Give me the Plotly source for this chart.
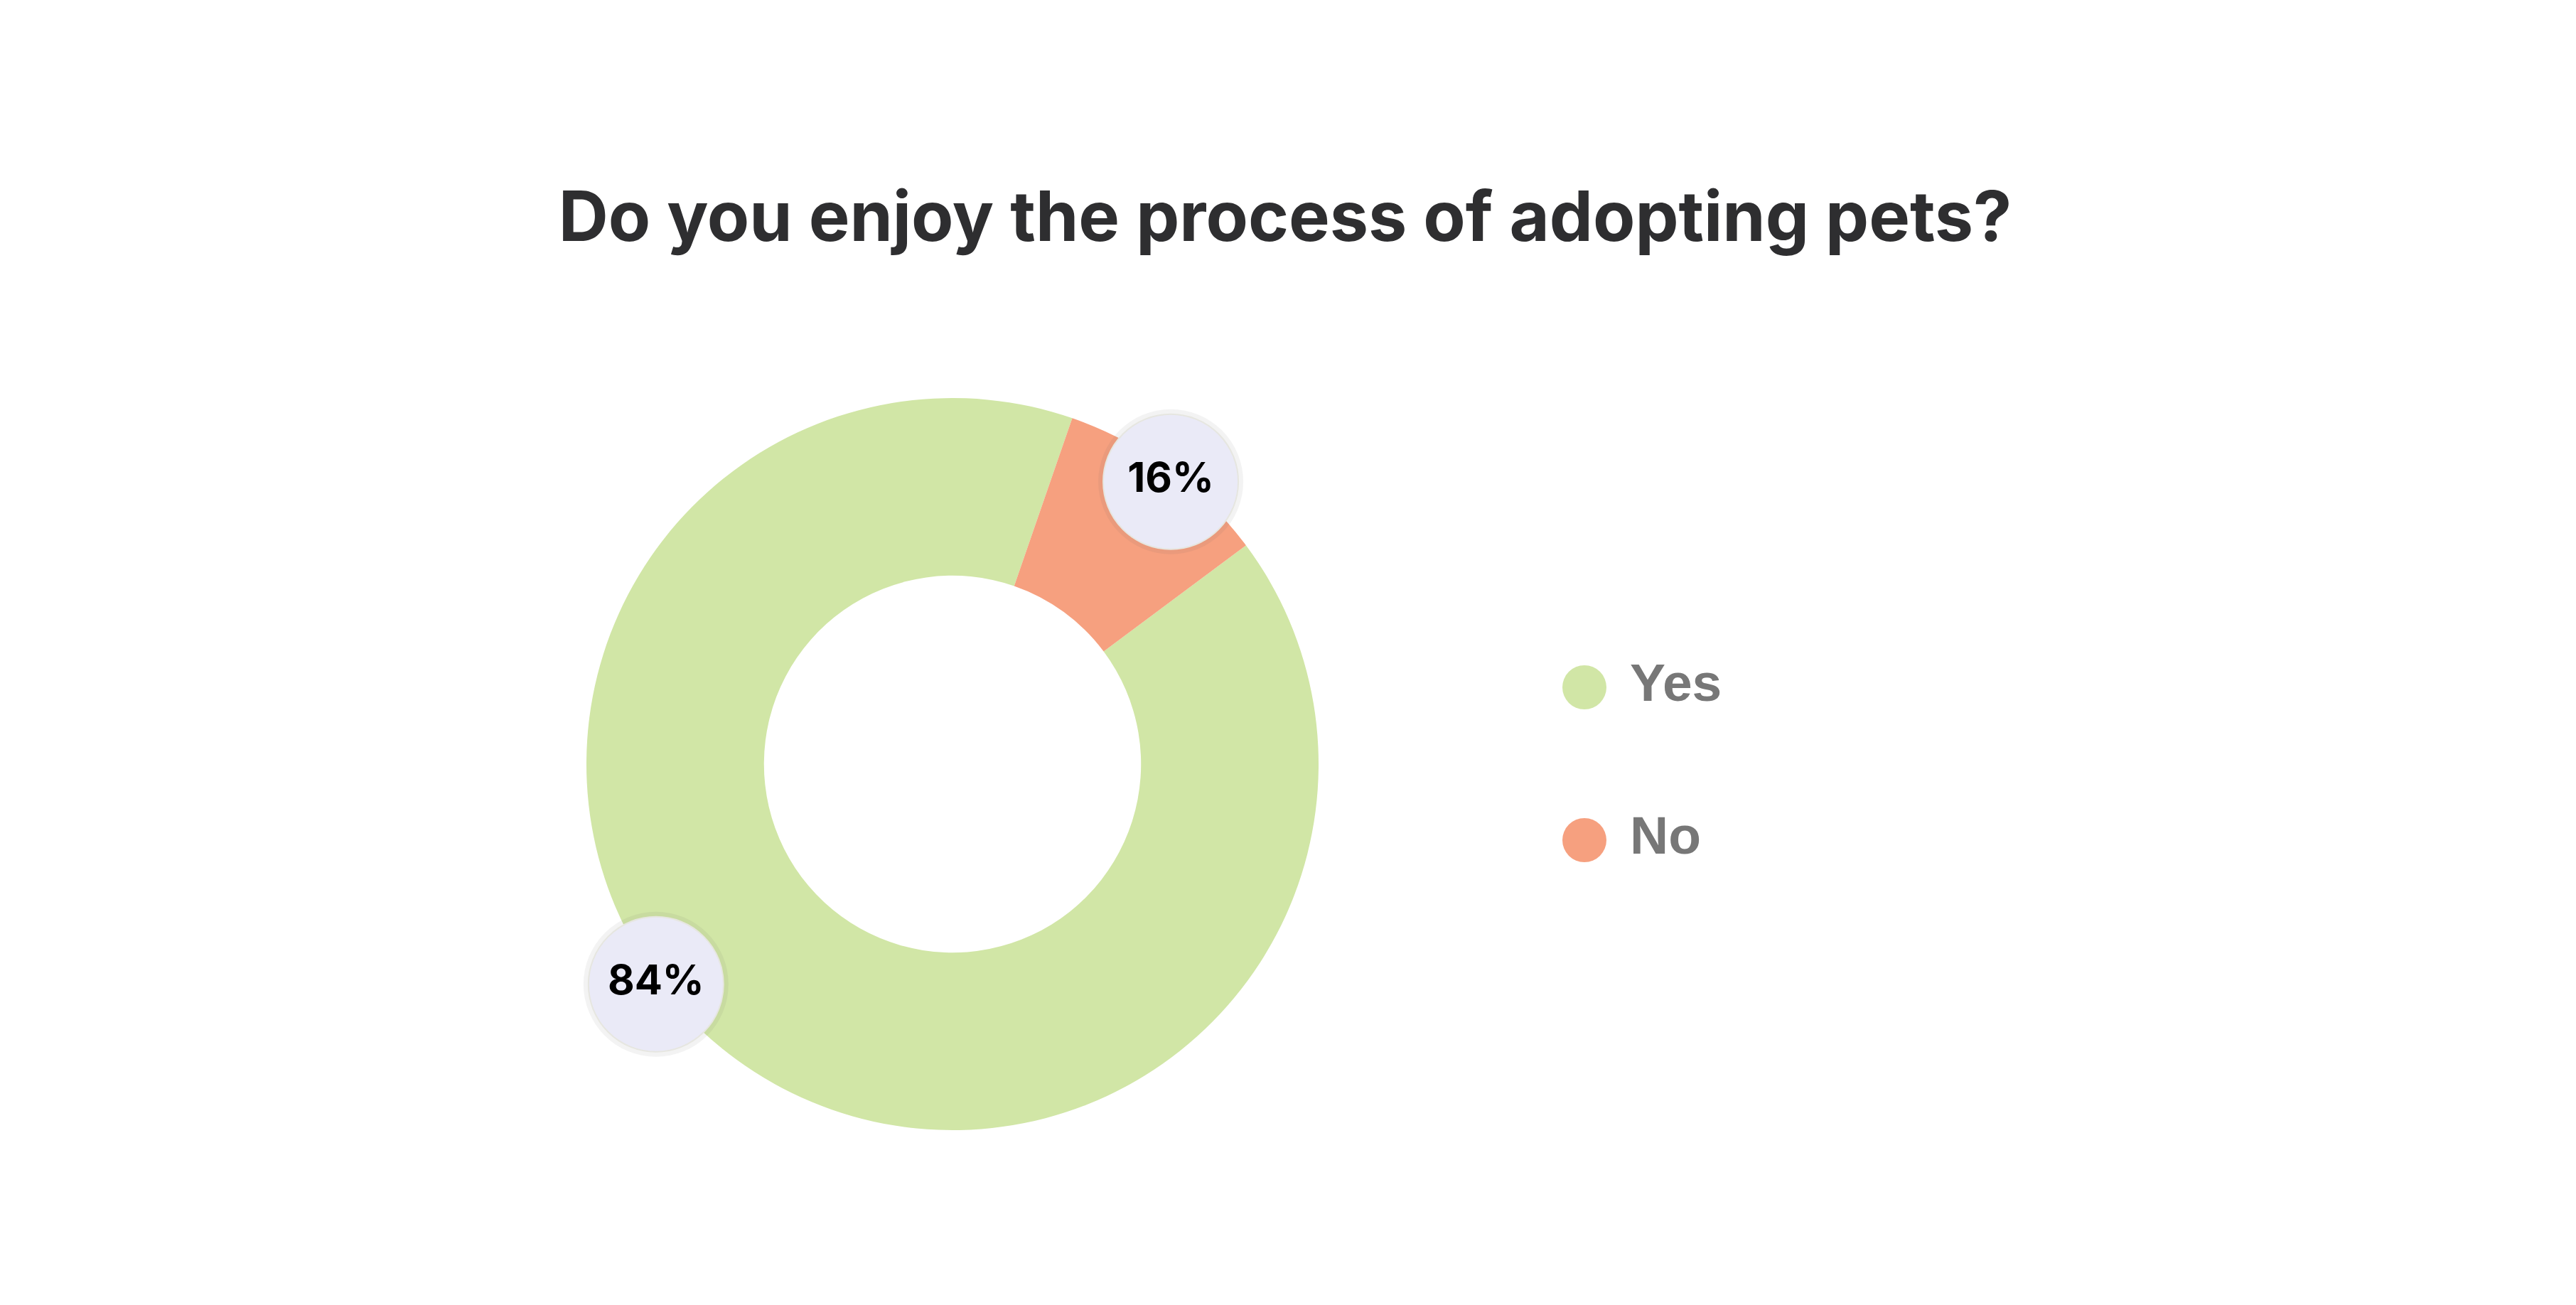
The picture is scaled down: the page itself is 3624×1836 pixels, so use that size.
import plotly.graph_objects as go

# survey answers
categories = ['Yes', 'No']
percent_labels = [84, 16]          # numbers printed in the bubbles
arc_values = [90.5, 9.5]           # share of the ring each slice takes in the picture
colors = ['#D1E6A6', '#F6A07F']

title = 'Do you enjoy the process of adopting pets?'

W, H = 3624, 1836
PAD = 8                            # browser body margin shifts the whole plot
CX, CY, R = 1340 - PAD, 1075 - PAD, 515   # ring centre / outer radius in px
HOLE = 0.515
RANGE_MAX = 1.25
START = 53.3                       # clockwise from 12 o'clock, where "Yes" begins
LABEL_THETA = [233.4, 37.7]
LABEL_R = [1.009, 0.975]

# angular position / width of every slice
total = sum(arc_values)
widths = [v / total * 360 for v in arc_values]
centres = []
acc = START
for w in widths:
    centres.append(acc + w / 2)
    acc += w

pr = R * RANGE_MAX
polar_x = [(CX - pr) / W, (CX + pr) / W]
polar_y = [(H - CY - pr) / H, (H - CY + pr) / H]

fig = go.Figure()

fig.add_trace(go.Barpolar(
    theta=centres,
    width=widths,
    r=[1 - HOLE] * len(categories),
    base=[HOLE] * len(categories),
    marker=dict(color=colors, line=dict(width=0)),
    hoverinfo='skip',
    showlegend=False,
))

# soft shadow behind the bubbles
fig.add_trace(go.Scatterpolar(
    theta=LABEL_THETA,
    r=LABEL_R,
    mode='markers',
    marker=dict(size=204, color='rgba(90,90,90,0.07)', line=dict(width=0)),
    hoverinfo='skip',
    showlegend=False,
))

fig.add_trace(go.Scatterpolar(
    theta=LABEL_THETA,
    r=LABEL_R,
    mode='markers+text',
    text=[f'{p}%' for p in percent_labels],
    textposition='middle center',
    textfont=dict(family='Inter', size=58, color='#000000', weight=700),
    marker=dict(size=190, color='#EAEAF7', line=dict(width=2, color='#E6E6E0')),
    hoverinfo='skip',
    showlegend=False,
))

# hand made legend with round swatches
LEG_X, LEG_Y, LEG_DY = 2229 - PAD, 967 - PAD, 215
fig.add_trace(go.Scatter(
    x=[LEG_X] * len(categories),
    y=[LEG_Y + i * LEG_DY for i in range(len(categories))],
    mode='markers',
    marker=dict(size=62, color=colors),
    hoverinfo='skip',
    showlegend=False,
))
fig.add_trace(go.Scatter(
    x=[LEG_X + 64] * len(categories),
    y=[LEG_Y + i * LEG_DY for i in range(len(categories))],
    mode='text',
    text=categories,
    textposition='middle right',
    textfont=dict(family='Liberation Sans', size=75, color='#777777', weight=700),
    hoverinfo='skip',
    showlegend=False,
))

fig.update_layout(
    width=W,
    height=H,
    margin=dict(l=0, r=0, t=0, b=0),
    paper_bgcolor='white',
    plot_bgcolor='white',
    title=dict(
        text=title,
        x=(W / 2 - 12) / W,
        xanchor='center',
        y=(H - 305 + PAD) / H,
        yanchor='middle',
        font=dict(family='Inter', size=97, color='#2E2E30', weight=700),
    ),
    polar=dict(
        domain=dict(x=polar_x, y=polar_y),
        bgcolor='rgba(0,0,0,0)',
        hole=0,
        radialaxis=dict(visible=False, range=[0, RANGE_MAX]),
        angularaxis=dict(visible=False, rotation=90, direction='clockwise'),
    ),
    xaxis=dict(visible=False, range=[0, W], domain=[0, 1], fixedrange=True),
    yaxis=dict(visible=False, range=[H, 0], domain=[0, 1], fixedrange=True),
    showlegend=False,
)

fig.write_html('out.html')
